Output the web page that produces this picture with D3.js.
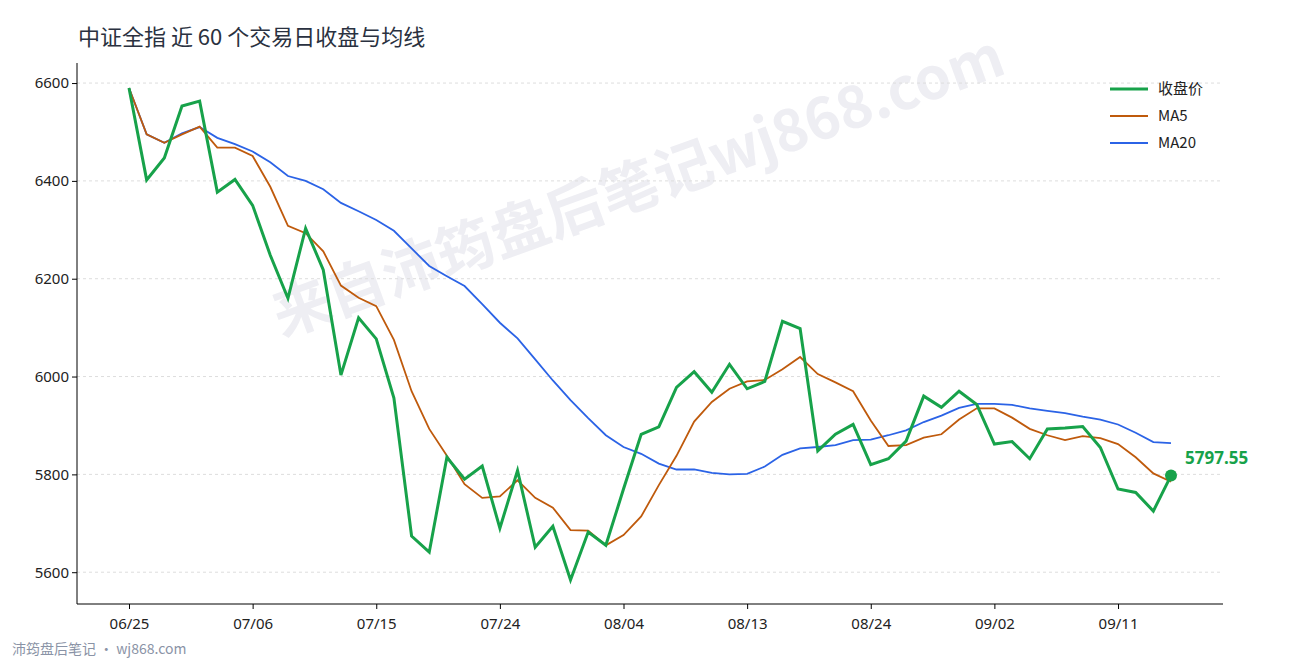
<!DOCTYPE html>
<html><head><meta charset="utf-8">
<script src="https://cdn.jsdelivr.net/npm/d3@7"></script>
<style>body{margin:0;background:#fff;font-family:"Noto Sans CJK SC","Noto Sans",sans-serif}</style>
</head><body><svg id="c" width="1290" height="660"></svg>
<script>
const dates=["06/25","06/26","06/27","06/30","07/01","07/02","07/03","07/06","07/07","07/08","07/09","07/10","07/13","07/14","07/15","07/16","07/17","07/20","07/21","07/22","07/23","07/24","07/27","07/28","07/29","07/30","07/31","08/03","08/04","08/05","08/06","08/07","08/10","08/11","08/12","08/13","08/14","08/17","08/18","08/19","08/20","08/21","08/24","08/25","08/26","08/27","08/28","08/31","09/01","09/02","09/03","09/04","09/07","09/08","09/09","09/10","09/11","09/14","09/15","09/16"];
const tickLabels=["06/25","07/06","07/15","07/24","08/04","08/13","08/24","09/02","09/11"];
const close=[6590,6402,6447,6553,6563,6377,6403,6350,6248,6160,6303,6218,6003,6120,6077,5956,5674,5641,5835,5790,5817,5690,5808,5651,5694,5584,5682,5655,5770,5882,5897,5978,6010,5968,6025,5975,5990,6113,6098,5848,5882,5902,5820,5832,5868,5960,5937,5970,5943,5862,5867,5832,5893,5895,5898,5855,5770,5763,5725,5797.55];
const ma5=[6590,6495,6478,6495,6511,6468,6468,6451,6388,6308,6293,6256,6186,6161,6144,6075,5970,5893,5838,5780,5752,5755,5788,5752,5732,5686,5685,5655,5676,5714,5778,5838,5908,5948,5975,5990,5993,6015,6040,6005,5988,5970,5910,5858,5860,5875,5882,5912,5935,5935,5916,5893,5880,5870,5878,5874,5862,5835,5802,5785];
const ma20=[6590,6495,6478,6497,6510,6488,6475,6460,6438,6410,6400,6383,6355,6338,6320,6298,6262,6226,6205,6185,6148,6110,6078,6035,5992,5952,5915,5880,5856,5842,5822,5810,5810,5803,5800,5801,5816,5840,5853,5856,5860,5870,5871,5880,5890,5907,5920,5936,5944,5944,5942,5935,5930,5925,5918,5912,5902,5885,5866,5864];
const yTicks=[5600,5800,6000,6200,6400,6600];

const svg=d3.select("#c");
const x=d3.scalePoint().domain(dates).range([129,1171]);
const y=d3.scaleLinear().domain([5535,6641]).range([604,63]);

svg.append("text").attr("transform","translate(645,205) rotate(-20)").attr("text-anchor","middle")
 .attr("font-size",58).attr("font-weight","bold").attr("fill","#eeeef3").text("来自沛筠盘后笔记wj868.com");

svg.append("g").selectAll("line").data(yTicks).join("line")
 .attr("x1",77).attr("x2",1223).attr("y1",d=>y(d)).attr("y2",d=>y(d))
 .attr("stroke","#ddd").attr("stroke-dasharray","3,3");

const xa=svg.append("g").attr("transform","translate(0,604)")
 .call(d3.axisBottom(x).tickValues(tickLabels).tickSize(5).tickSizeOuter(0));
xa.select(".domain").attr("d","M77,0H1223");
const ya=svg.append("g").attr("transform","translate(77,0)")
 .call(d3.axisLeft(y).tickValues(yTicks).tickFormat(d3.format("d")).tickSize(5).tickSizeOuter(0));
ya.select(".domain").attr("d","M0,63V604");
svg.selectAll(".tick text").attr("font-size",15).attr("fill","#222").attr("font-family","Noto Sans");
xa.selectAll(".tick text").attr("dy","1.1em");

const line=arr=>d3.line().x((d,i)=>x(dates[i])).y(d=>y(d))(arr);
svg.append("path").attr("d",line(ma20)).attr("fill","none").attr("stroke","#2b63e6").attr("stroke-width",1.8);
svg.append("path").attr("d",line(ma5)).attr("fill","none").attr("stroke","#bf5a0c").attr("stroke-width",1.8);
svg.append("path").attr("d",line(close)).attr("fill","none").attr("stroke","#17a24a").attr("stroke-width",3);

const last=close.length-1;
svg.append("circle").attr("cx",x(dates[last])).attr("cy",y(close[last])).attr("r",6).attr("fill","#17a24a");
svg.append("text").attr("x",x(dates[last])+14).attr("y",y(close[last])-12).attr("font-size",17).attr("font-weight","bold")
 .attr("fill","#17a24a").attr("font-family","Noto Sans").text(close[last].toFixed(2));

const leg=[["收盘价","#17a24a",3],["MA5","#bf5a0c",1.8],["MA20","#2b63e6",1.8]];
leg.forEach((l,i)=>{
 const yy=89+i*27;
 svg.append("line").attr("x1",1110).attr("x2",1148).attr("y1",yy).attr("y2",yy).attr("stroke",l[1]).attr("stroke-width",l[2]);
 svg.append("text").attr("x",1158).attr("y",yy+5).attr("font-size",15).attr("fill","#222").text(l[0]);
});

svg.append("text").attr("x",78).attr("y",45).attr("font-size",22).attr("fill","#2a3140").text("中证全指 近 60 个交易日收盘与均线");
svg.append("text").attr("x",12).attr("y",654).attr("font-size",14).attr("fill","#8a93a6").text("沛筠盘后笔记 · wj868.com");
</script></body></html>
